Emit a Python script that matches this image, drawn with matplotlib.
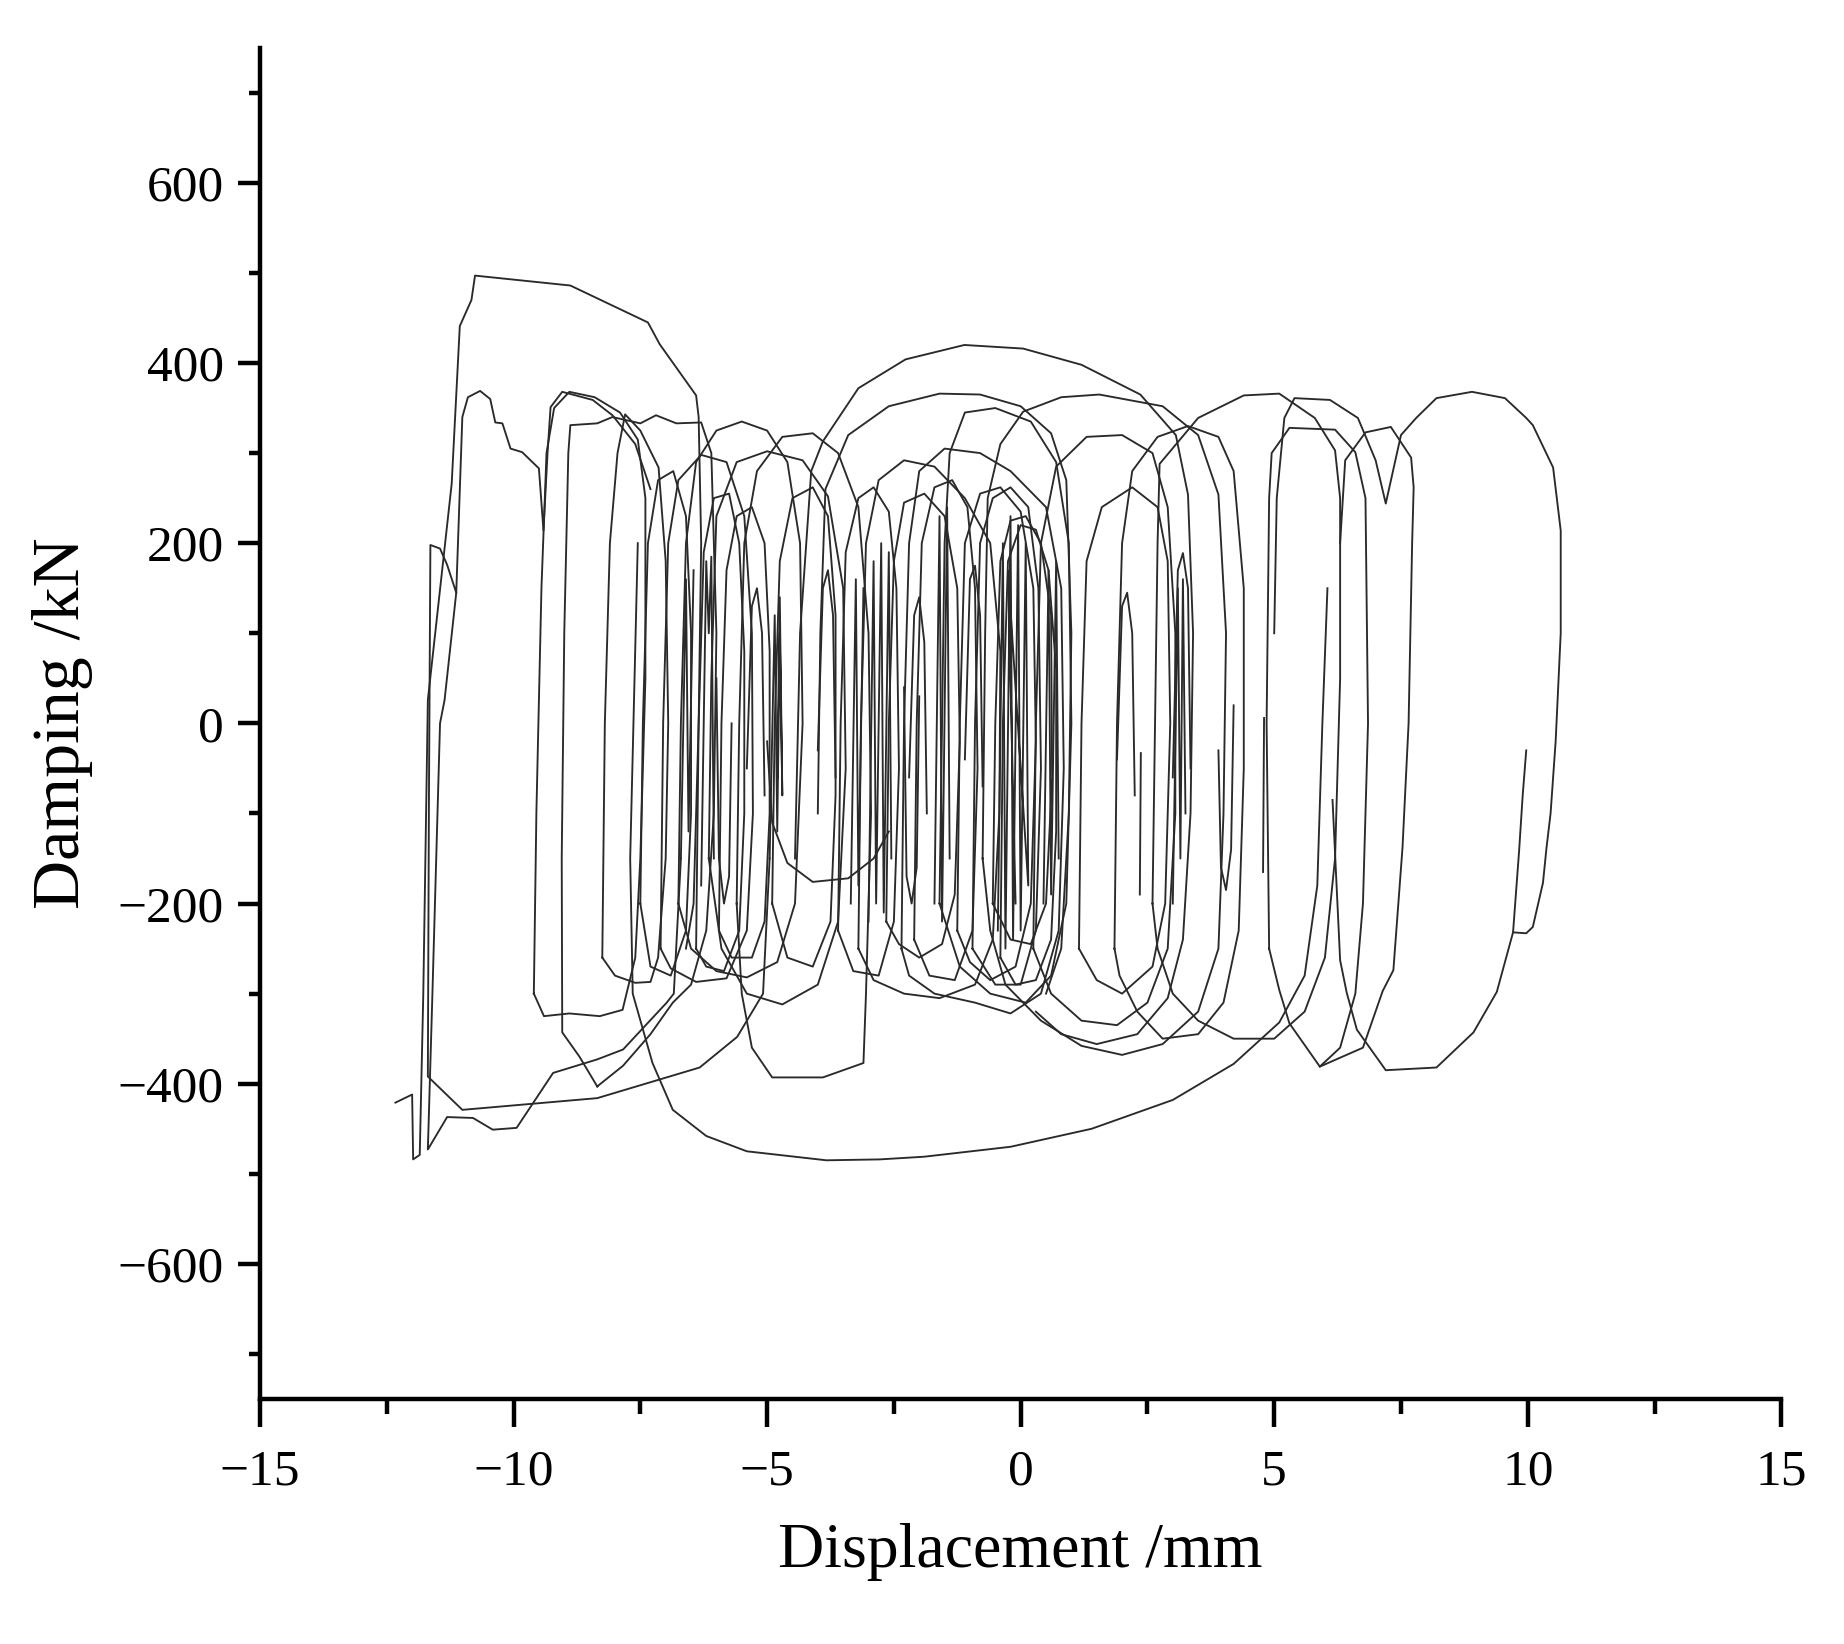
import matplotlib
matplotlib.use('Agg')
import matplotlib.pyplot as plt
from matplotlib.ticker import MultipleLocator

plt.rcParams['font.family'] = ['Liberation Serif', 'DejaVu Serif']
plt.rcParams['axes.unicode_minus'] = True

# hysteresis trace as (displacement mm, damping kN) vertices
outer_trace = [(-12.33, -421), (-12.0, -412), (-11.98, -484), (-11.85, -479), (-11.78, -300),
               (-11.69, 26), (-11.22, 266), (-11.06, 441), (-10.83, 470), (-10.76, 497),
               (-8.88, 486), (-7.35, 445), (-7.12, 421), (-6.4, 364), (-6.35, 340),
               (-6.3, 200), (-6.35, 0), (-6.45, -200), (-6.6, -250)]
trace_b = [(-4.95, -150), (-5.08, -300), (-5.59, -348), (-6.33, -382), (-8.35, -416),
           (-11.01, -429), (-11.69, -392), (-11.67, -100), (-11.64, 198), (-11.45, 194),
           (-11.31, 176), (-11.13, 145), (-11.01, 340), (-10.9, 362), (-10.66, 369),
           (-10.46, 360), (-10.36, 334), (-10.22, 333), (-10.06, 305), (-9.83, 301),
           (-9.5, 283), (-9.41, 214), (-9.33, 300), (-9.27, 351), (-9.04, 368),
           (-8.44, 359), (-8.05, 342), (-7.6, 310), (-7.3, 260)]
trace_c = [(-6.7, -150), (-6.84, -300), (-6.98, -310), (-7.84, -362), (-8.35, -373),
           (-9.22, -388), (-9.94, -449), (-10.41, -451), (-10.8, -438), (-11.31, -437),
           (-11.69, -473), (-11.6, -300), (-11.45, 0), (-11.36, 26), (-11.13, 145)]
loop_a = [(-9.6, -300), (-9.55, -100), (-9.45, 150), (-9.35, 300), (-9.2, 350), (-8.9, 368),
          (-8.4, 362), (-7.9, 345), (-7.55, 315), (-7.4, 250), (-7.4, 50), (-7.5, -150),
          (-7.6, -260), (-7.85, -318), (-8.3, -325), (-8.9, -322), (-9.4, -325), (-9.6, -300)]
loop_b = [(-8.35, -403), (-8.7, -370), (-9.04, -343), (-9.05, -150), (-9.0, 100), (-8.92, 300),
          (-8.88, 331), (-8.35, 333), (-8.05, 340), (-7.5, 333), (-7.19, 342), (-6.79, 333),
          (-6.3, 334), (-6.1, 300), (-6.0, 100), (-6.05, -100), (-6.2, -230), (-6.5, -290),
          (-6.86, -310), (-7.3, -345), (-7.84, -380), (-8.35, -403)]
loop_c = [(-8.25, -260), (-8.2, 0), (-8.1, 200), (-7.95, 300), (-7.8, 343), (-7.5, 325),
          (-7.14, 284), (-7.0, 180), (-6.95, 0), (-7.0, -150), (-7.15, -260), (-7.3, -287),
          (-7.6, -288), (-8.0, -280), (-8.25, -260)]
big_bottom = [(-7.55, 200), (-7.7, -150), (-7.65, -300), (-7.26, -377), (-6.86, -429),
              (-6.2, -458), (-5.4, -475), (-3.83, -485), (-2.78, -484), (-1.9, -481),
              (-0.2, -470), (1.4, -450), (3.0, -418), (4.2, -378), (5.1, -332), (5.6, -280),
              (5.85, -180), (5.95, 0), (6.05, 150)]
loop_p3 = [(-7.1, -250), (-7.05, 0), (-6.95, 200), (-6.75, 270), (-6.3, 298), (-5.8, 290),
           (-5.45, 230), (-5.3, 100), (-5.28, -100), (-5.4, -230), (-5.8, -283), (-6.4, -287),
           (-6.9, -272), (-7.1, -250)]
loop_p1 = [(-6.75, -200), (-6.7, 0), (-6.6, 200), (-6.4, 290), (-6.0, 325), (-5.5, 335),
           (-5.0, 325), (-4.6, 290), (-4.35, 200), (-4.3, 0), (-4.45, -200), (-4.8, -265),
           (-5.4, -282), (-6.0, -275), (-6.5, -250), (-6.75, -200)]
loop_p2 = [(-6.15, -150), (-6.1, 50), (-6.0, 230), (-5.6, 290), (-5.0, 302), (-4.3, 292),
           (-3.8, 252), (-3.5, 150), (-3.45, -50), (-3.6, -220), (-4.0, -290), (-4.7, -312),
           (-5.4, -300), (-5.9, -250), (-6.15, -150)]
loop_p5 = [(-5.6, -200), (-5.55, 0), (-5.45, 200), (-5.2, 280), (-4.7, 318), (-4.1, 322),
           (-3.6, 300), (-3.2, 240), (-3.0, 100), (-2.95, -100), (-3.05, -300), (-3.1, -377),
           (-3.9, -393), (-4.9, -393), (-5.3, -360), (-5.5, -300), (-5.6, -200)]
big_top = [(-4.45, -150), (-4.35, 100), (-4.13, 280), (-3.9, 313), (-3.2, 372), (-2.27, 404),
           (-1.11, 420), (0.05, 416), (1.2, 398), (2.36, 365), (3.06, 320), (3.3, 254),
           (3.4, 100), (3.35, -100), (3.2, -240), (2.9, -305), (2.3, -345), (1.5, -356),
           (0.8, -345), (0.3, -320)]
loop_g = [(-4.0, -100), (-3.95, 100), (-3.85, 260), (-3.4, 320), (-2.6, 352), (-1.6, 366),
          (-0.8, 365), (0.0, 352), (0.6, 322), (0.9, 270), (1.0, 100), (0.95, -100),
          (0.8, -250), (0.5, -300)]
inner_arc = [(-5.0, -20), (-4.9, -110), (-4.6, -155), (-4.1, -176), (-3.4, -172),
             (-2.9, -150), (-2.6, -120)]
loop_s1 = [(-2.35, -250), (-2.3, 0), (-2.2, 200), (-2.0, 280), (-1.5, 305), (-0.8, 300),
           (-0.2, 280), (0.5, 240), (0.8, 150), (0.85, -50), (0.75, -230), (0.4, -300),
           (-0.2, -322), (-0.9, -310), (-1.7, -300), (-2.2, -280), (-2.35, -250)]
loop_s2 = [(-1.6, -200), (-1.55, 0), (-1.5, 200), (-1.4, 300), (-1.1, 345), (-0.5, 350),
           (0.2, 335), (0.7, 290), (0.95, 200), (1.0, 0), (0.9, -200), (0.6, -280),
           (0.1, -310), (-0.6, -300), (-1.2, -270), (-1.6, -200)]
loop_s3 = [(-3.2, -250), (-3.15, 0), (-3.05, 200), (-2.8, 270), (-2.3, 292), (-1.7, 285),
           (-1.1, 250), (-0.6, 200), (-0.4, 80), (-0.42, -100), (-0.55, -240), (-0.9, -290),
           (-1.6, -305), (-2.3, -300), (-2.9, -285), (-3.2, -250)]
loop_s4 = [(-2.65, -220), (-2.6, 0), (-2.5, 180), (-2.3, 245), (-1.9, 255), (-1.5, 230),
           (-1.25, 150), (-1.2, -20), (-1.3, -190), (-1.55, -245), (-2.0, -260), (-2.4, -245),
           (-2.65, -220)]
loop_s5 = [(-0.55, -200), (-0.5, 0), (-0.4, 180), (-0.2, 225), (0.1, 230), (0.4, 200),
           (0.6, 120), (0.62, -60), (0.5, -200), (0.2, -245), (-0.2, -240), (-0.55, -200)]
loop_s6 = [(-1.25, -230), (-1.2, 0), (-1.1, 200), (-0.8, 255), (-0.4, 262), (0.0, 235),
           (0.25, 150), (0.3, -20), (0.2, -200), (-0.1, -270), (-0.6, -285), (-1.0, -265),
           (-1.25, -230)]
loop_v1 = [(-5.95, -230), (-5.9, 0), (-5.8, 170), (-5.6, 230), (-5.3, 240), (-5.05, 200),
           (-4.95, 80), (-4.95, -100), (-5.05, -220), (-5.3, -260), (-5.7, -260), (-5.95, -230)]
loop_v2 = [(-4.9, -200), (-4.85, 0), (-4.75, 180), (-4.5, 250), (-4.1, 262), (-3.8, 230),
           (-3.65, 120), (-3.65, -80), (-3.75, -220), (-4.1, -270), (-4.6, -260), (-4.9, -200)]
loop_v3 = [(-3.6, -230), (-3.55, 0), (-3.45, 190), (-3.2, 250), (-2.9, 262), (-2.6, 235),
           (-2.45, 150), (-2.4, -50), (-2.5, -220), (-2.8, -280), (-3.3, -275), (-3.6, -230)]
loop_v4 = [(-2.1, -240), (-2.05, 0), (-1.95, 200), (-1.7, 262), (-1.35, 270), (-1.05, 240),
           (-0.9, 150), (-0.85, -50), (-0.95, -230), (-1.3, -285), (-1.8, -280), (-2.1, -240)]
loop_v5 = [(-0.95, -250), (-0.9, 0), (-0.8, 200), (-0.55, 250), (-0.2, 262), (0.15, 240),
           (0.35, 150), (0.4, -50), (0.3, -230), (0.0, -290), (-0.5, -290), (-0.95, -250)]
loop_v6 = [(-0.4, -260), (-0.35, 0), (-0.25, 180), (0.0, 220), (0.3, 215), (0.55, 170),
           (0.7, 60), (0.7, -120), (0.6, -240), (0.3, -285), (-0.1, -290), (-0.4, -260)]
loop_v7 = [(-6.4, -250), (-6.35, 0), (-6.25, 190), (-6.05, 250), (-5.75, 255), (-5.55, 200),
           (-5.45, 80), (-5.45, -100), (-5.55, -230), (-5.85, -275), (-6.2, -270), (-6.4, -250)]
loop_v8 = [(-7.5, -200), (-7.45, 0), (-7.35, 200), (-7.15, 270), (-6.85, 280), (-6.6, 230),
           (-6.5, 100), (-6.5, -100), (-6.6, -230), (-6.9, -280), (-7.3, -270), (-7.5, -200)]
loop_u = [(1.15, -250), (1.2, 0), (1.3, 180), (1.6, 240), (2.2, 262), (2.7, 240), (2.9, 180),
          (2.95, 0), (2.85, -200), (2.6, -270), (2.0, -300), (1.5, -285), (1.15, -250)]
loop_h = [(-0.75, -150), (-0.7, 100), (-0.65, 250), (-0.4, 310), (0.05, 346), (0.8, 362),
          (1.55, 365), (2.8, 352), (3.5, 320), (3.9, 254), (4.05, 100), (4.0, -100),
          (3.9, -250), (3.5, -320), (2.8, -356), (2.0, -368), (1.2, -358), (0.4, -330),
          (-0.3, -290), (-0.6, -230), (-0.75, -150)]
loop_t1 = [(1.85, -250), (1.9, 0), (2.0, 200), (2.2, 280), (2.7, 318), (3.3, 330), (3.9, 318),
           (4.2, 280), (4.4, 150), (4.4, -50), (4.3, -230), (4.0, -310), (3.5, -345),
           (2.8, -350), (2.3, -320), (1.95, -280), (1.85, -250)]
loop_t2 = [(0.25, -250), (0.3, 0), (0.4, 200), (0.7, 285), (1.3, 318), (2.0, 320), (2.6, 300),
           (2.9, 240), (3.05, 100), (3.05, -100), (2.9, -250), (2.5, -310), (1.9, -335),
           (1.2, -330), (0.6, -300), (0.25, -250)]
loop_i = [(2.6, -200), (2.65, 0), (2.7, 200), (2.74, 288), (3.5, 339), (4.4, 364), (5.1, 366),
          (5.8, 339), (6.2, 303), (6.3, 250), (6.3, 50), (6.2, -150), (6.0, -260), (5.6, -320),
          (5.0, -350), (4.2, -350), (3.5, -330), (3.0, -300), (2.7, -250), (2.6, -200)]
loop_m = [(4.9, -250), (4.85, 0), (4.9, 250), (4.95, 300), (5.3, 328), (6.2, 326), (6.6, 301),
          (6.8, 250), (6.85, 0), (6.75, -200), (6.6, -300), (6.3, -360), (5.9, -381),
          (5.3, -333), (5.1, -296), (4.9, -250)]
loop_n = [(5.9, -381), (6.75, -360), (7.14, -297), (7.35, -274), (7.53, -138), (7.65, 0),
          (7.72, 200), (7.75, 262), (7.7, 295), (7.3, 329), (6.8, 323), (6.4, 292), (6.3, 200)]
loop_right = [(5.0, 100), (5.05, 250), (5.2, 339), (5.4, 361), (6.1, 359), (6.65, 339),
              (7.0, 292), (7.2, 244), (7.5, 320), (7.8, 339), (8.2, 361), (8.9, 368),
              (9.55, 361), (9.97, 339), (10.1, 331), (10.5, 284), (10.65, 214), (10.65, 100),
              (10.55, -20), (10.45, -100), (10.37, -138), (10.3, -177), (10.1, -226),
              (9.97, -233), (9.71, -232)]
right_bottom = [(6.15, -85), (6.3, -263), (6.43, -299), (6.63, -340), (7.2, -385), (8.2, -382),
                (8.93, -343), (9.39, -298), (9.71, -232), (9.83, -141), (9.9, -80), (9.97, -30)]
# small arches and spikes inside the dense middle
arch_1 = [(-5.4, -50), (-5.3, 130), (-5.2, 150), (-5.1, 100), (-5.05, -80)]
arch_2 = [(-2.2, -60), (-2.1, 120), (-2.0, 140), (-1.9, 90), (-1.85, -100)]
arch_3 = [(1.9, -40), (2.0, 130), (2.1, 145), (2.2, 100), (2.25, -80)]
arch_4 = [(3.0, -60), (3.1, 170), (3.2, 189), (3.3, 150), (3.35, -50)]
arch_5 = [(-4.0, -30), (-3.9, 150), (-3.8, 170), (-3.7, 120), (-3.65, -60)]
arch_6 = [(-1.1, -40), (-1.0, 160), (-0.9, 175), (-0.8, 120), (-0.75, -70)]
dip_1 = [(-6.0, 50), (-5.95, -150), (-5.85, -200), (-5.75, -170), (-5.7, 0)]
dip_2 = [(3.9, -30), (3.95, -160), (4.05, -185), (4.15, -140), (4.2, 20)]
dip_3 = [(-2.3, 40), (-2.25, -170), (-2.15, -200), (-2.05, -160), (-2.0, 30)]
spike_a = [(-6.3, -180), (-6.2, 180), (-6.15, 100), (-6.1, 185), (-6.05, -150)]
spike_b = [(-4.95, -150), (-4.85, 120), (-4.8, -120), (-4.75, 100), (-4.7, -80), (-4.75, 140),
           (-4.8, -60)]
spike_c = [(-3.0, -220), (-2.9, 180), (-2.85, -200), (-2.75, 200), (-2.7, -210), (-2.6, 190),
           (-2.55, -150)]
spike_d = [(-1.7, -200), (-1.6, 230), (-1.55, -220), (-1.45, 240), (-1.4, -150)]
spike_e = [(-0.45, -230), (-0.35, 200), (-0.3, -250), (-0.2, 230), (-0.15, -240), (-0.05, 220),
           (0.0, -230), (0.1, 200), (0.15, -180), (-0.25, 170), (-0.1, -200)]
spike_f = [(3.0, -200), (3.1, 150), (3.15, -150), (3.2, 160), (3.25, -100)]
spike_g = [(4.8, 6), (4.78, -165)]
spike_h = [(2.37, -33), (2.35, -190)]
spike_i = [(-6.7, -150), (-6.6, 160), (-6.55, -120), (-6.45, 170)]
spike_j = [(-3.35, -200), (-3.25, 160), (-3.2, -180), (-3.1, 150)]
spike_k = [(0.45, -200), (0.55, 170), (0.6, -190), (0.7, 180), (0.75, -150)]

traces = [outer_trace, trace_b, trace_c, loop_a, loop_b, loop_c, big_bottom, loop_p3, loop_p1,
          loop_p2, loop_p5, big_top, loop_g, inner_arc, loop_s1, loop_s2, loop_s3, loop_s4,
          loop_s5, loop_s6, loop_v1, loop_v2, loop_v3, loop_v4, loop_v5, loop_v6, loop_v7,
          loop_v8, loop_u, loop_h, loop_t1, loop_t2, loop_i, loop_m, loop_n, loop_right,
          right_bottom, arch_1, arch_2, arch_3, arch_4, arch_5, arch_6, dip_1, dip_2, dip_3,
          spike_a, spike_b, spike_c, spike_d, spike_e, spike_f, spike_g, spike_h, spike_i,
          spike_j, spike_k]

fig = plt.figure(figsize=(18.44, 16.44), dpi=100)
ax = fig.add_axes([0.141, 0.149, 0.825, 0.822])

for tr in traces:
    xs = [p[0] for p in tr]
    ys = [p[1] for p in tr]
    ax.plot(xs, ys, color='#2a2a2a', lw=1.35)

ax.set_xlim(-15, 15)
ax.set_ylim(-750, 750)
ax.xaxis.set_major_locator(MultipleLocator(5))
ax.xaxis.set_minor_locator(MultipleLocator(2.5))
ax.yaxis.set_major_locator(MultipleLocator(200))
ax.yaxis.set_minor_locator(MultipleLocator(100))
ax.set_yticks([-600, -400, -200, 0, 200, 400, 600])

for s in ['top', 'right']:
    ax.spines[s].set_visible(False)
for s in ['left', 'bottom']:
    ax.spines[s].set_linewidth(3.2)

ax.tick_params(axis='x', which='major', direction='out', length=20, width=3.2, pad=16, labelsize=37)
ax.tick_params(axis='x', which='minor', direction='out', length=11, width=3.2)
ax.tick_params(axis='y', which='major', direction='out', length=16, width=3.2, pad=10, labelsize=37)
ax.tick_params(axis='y', which='minor', direction='out', length=8, width=3.2)

ax.set_xlabel('Displacement /mm', fontsize=46, labelpad=20)
ax.set_ylabel('Damping /kN', fontsize=49, labelpad=18)

fig.savefig('out.png', dpi=100)
